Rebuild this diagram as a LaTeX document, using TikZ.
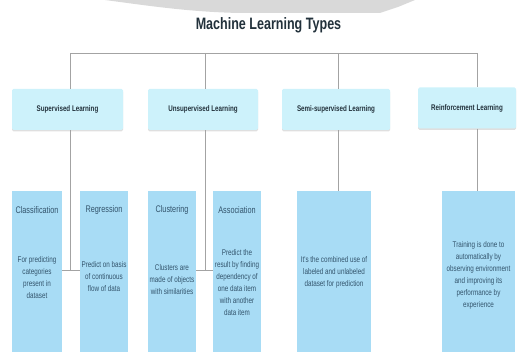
\documentclass[tikz,border=0pt]{standalone}
\usepackage{fontspec}
\setmainfont{Liberation Sans}
\newfontfamily\narrowfont[FakeStretch=0.84]{Liberation Sans}
\newfontfamily\tallfont[FakeStretch=0.76]{Liberation Sans}
\usetikzlibrary{shadows}

\definecolor{typefill}{HTML}{CDF2FB}
\definecolor{leaffill}{HTML}{A8DCF5}
\definecolor{leafink}{HTML}{33546C}
\definecolor{typeink}{HTML}{22313B}
\definecolor{linkgray}{HTML}{A3A3A3}
\definecolor{blobgray}{HTML}{D9D9D9}

\begin{document}
\begin{tikzpicture}[x=1pt, y=-1pt,
    link/.style={linkgray, line width=0.8pt},
    typebox/.style={fill=typefill, rounded corners=1.5pt, minimum height=41pt,
        drop shadow={opacity=0.25, shadow xshift=0pt, shadow yshift=-1.5pt},
        text=typeink, font=\tallfont\bfseries\fontsize{8.2}{9}\selectfont},
    leafbox/.style={fill=leaffill, minimum height=161pt, inner sep=0pt},
    leaftitle/.style={text=leafink, font=\tallfont\fontsize{9.6}{10}\selectfont},
    leaftext/.style={text=leafink, align=center, inner sep=0pt,
        font=\tallfont\fontsize{8.3}{12}\selectfont}]
    \useasboundingbox (0,0) rectangle (517,352);

    % grey patch at the top edge
    \fill[blobgray] (105,0) .. controls (150,6) and (190,12) .. (240,13) -- (380,13) -- (398,7) -- (415,0) -- cycle;

    \node[text=typeink, font=\tallfont\bfseries\fontsize{16.5}{18}\selectfont] (title) at (268.5,25) {Machine Learning Types};

    % top bar
    \coordinate (b1) at (70,53);
    \coordinate (b2) at (205,53);
    \coordinate (b3) at (338,53);
    \coordinate (b4) at (477,53);
    \draw[link] (b1) -- (b4);

    % branch joints
    \coordinate (j1) at (70,270);
    \coordinate (j2) at (205,270);

    % level 2 boxes
    \node[leafbox, minimum width=50pt] (class) at (37,271.5) {};
    \node[leafbox, minimum width=48pt] (regr) at (104,271.5) {};
    \node[leafbox, minimum width=48pt] (clus) at (172,271.5) {};
    \node[leafbox, minimum width=48pt] (assoc) at (237,271.5) {};
    \node[leafbox, minimum width=74pt] (semid) at (334,271.5) {};
    \node[leafbox, minimum width=73pt] (reind) at (478.5,271.5) {};

    % level 1 boxes
    \node[typebox, minimum width=111pt] (sup) at (67.5,109.5) {Supervised Learning};
    \node[typebox, minimum width=110pt] (unsup) at (203,109.5) {Unsupervised Learning};
    \node[typebox, minimum width=108pt] (semi) at (336,109.5) {Semi-supervised Learning};
    \node[typebox, minimum width=98pt] (rein) at (467,108) {Reinforcement Learning};

    % connectors
    \draw[link] (b1) -- (b1 |- sup.north);
    \draw[link] (b2) -- (b2 |- unsup.north);
    \draw[link] (b3) -- (b3 |- semi.north);
    \draw[link] (b4) -- (b4 |- rein.north);
    \draw[link] (j1 |- sup.south) -- (j1);
    \draw[link] (j2 |- unsup.south) -- (j2);
    \draw[link] (class.east |- j1) -- (regr.west |- j1);
    \draw[link] (clus.east |- j2) -- (assoc.west |- j2);
    \draw[link] (b3 |- semi.south) -- (b3 |- semid.north);
    \draw[link] (b4 |- rein.south) -- (b4 |- reind.north);

    % titles and texts
    \node[leaftitle] (class-t) at (37,210) {Classification};
    \node[leaftitle] (regr-t) at (104,210) {Regression};
    \node[leaftitle] (clus-t) at (172,210) {Clustering};
    \node[leaftitle] (assoc-t) at (237,210) {Association};

    \node[leaftext] (class-x) at (37,278) {For predicting\\categories\\present in\\dataset};
    \node[leaftext] (regr-x) at (104,277) {Predict on basis\\of continuous\\flow of data};
    \node[leaftext] (clus-x) at (172,280) {Clusters are\\made of objects\\with similarities};
    \node[leaftext] (assoc-x) at (237,283) {Predict the\\result by finding\\dependency of\\one data item\\with another\\data item};
    \node[leaftext] (semi-x) at (334,272) {It's the combined use of\\labeled and unlabeled\\dataset for prediction};
    \node[leaftext] (rein-x) at (478.5,275) {Training is done to\\automatically by\\observing environment\\and improving its\\performance by\\experience};
\end{tikzpicture}
\end{document}
